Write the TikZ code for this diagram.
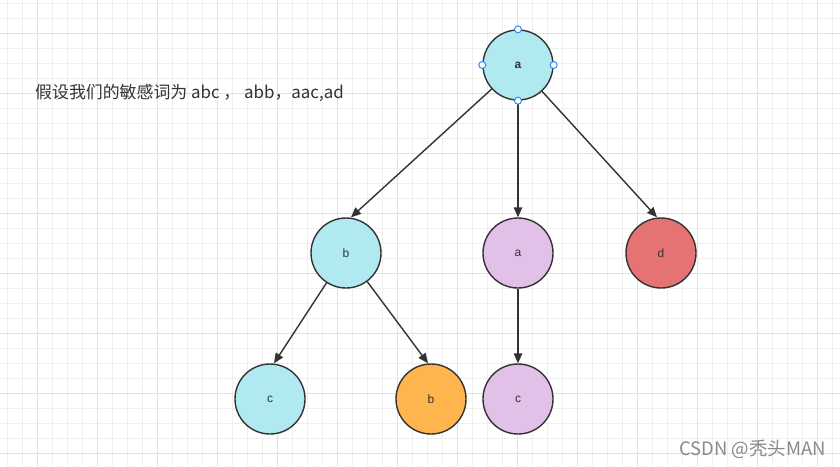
\documentclass[tikz,border=0pt]{standalone}
\usepackage{fontspec}
\setmainfont{Liberation Sans}
\newfontfamily\cjk{Noto Sans CJK SC}
\usetikzlibrary{arrows.meta}
\definecolor{gminor}{HTML}{EFEFEF}
\definecolor{gmajor}{HTML}{E2E2E2}
\definecolor{stroke}{HTML}{333333}
\definecolor{lblue}{HTML}{B1E9F0}
\definecolor{lpurple}{HTML}{E1C1E8}
\definecolor{lred}{HTML}{E57373}
\definecolor{lorange}{HTML}{FFB54D}
\definecolor{handle}{HTML}{2A8CFF}
\definecolor{wm}{HTML}{8A8A8A}
\tikzset{
  tnode/.style={circle, draw=stroke, line width=1.4pt, minimum size=70pt, inner sep=0pt, font=\fontsize{12}{14}\selectfont, text=stroke},
  edge/.style={draw=stroke, line width=1.4pt, -{Triangle[length=10pt,width=8.5pt]}},
  hdl/.style={circle, draw=handle, fill=white, line width=1pt, minimum size=7pt, inner sep=0pt}
}
\begin{document}
\begin{tikzpicture}[x=1pt,y=-1pt]
\useasboundingbox (0,0) rectangle (840,466);
\fill[white] (0,0) rectangle (840,466);
% grid
\foreach \x in {7,22,...,840} \draw[gminor, line width=0.8pt] (\x,0) -- (\x,466);
\foreach \y in {3,18,...,466} \draw[gminor, line width=0.8pt] (0,\y) -- (840,\y);
\foreach \x in {37,97,...,840} \draw[gmajor, line width=0.8pt] (\x,0) -- (\x,466);
\foreach \y in {33,93,...,466} \draw[gmajor, line width=0.8pt] (0,\y) -- (840,\y);

\node[tnode, fill=lblue, font=\fontsize{12}{14}\selectfont\bfseries] (r) at (518,65) {a};
\node[tnode, fill=lblue] (b1) at (346,253) {b};
\node[tnode, fill=lpurple] (a2) at (518,253) {a};
\node[tnode, fill=lred] (d) at (661,253) {d};
\node[tnode, fill=lblue] (c1) at (270,399) {c};
\node[tnode, fill=lorange] (b2) at (431,399) {b};
\node[tnode, fill=lpurple] (c2) at (518,399) {c};

\draw[edge] (r) -- ([xshift=5pt]b1.north);
\draw[edge] (r) -- (a2);
\draw[edge] (r) -- ([xshift=-4pt]d.north);
\draw[edge] (b1) -- ([xshift=4pt]c1.north);
\draw[edge] (b1) -- ([xshift=-3pt]b2.north);
\draw[edge] (a2) -- (c2);

\node[hdl] (h1) at (r.north) {};
\node[hdl] (h2) at (r.west) {};
\node[hdl] (h3) at (r.east) {};
\node[hdl] (h4) at (r.south) {};

\node[anchor=west, text=stroke, font=\cjk\fontsize{16.9}{20}\selectfont, inner sep=0pt] (t) at (35,93) {假设我们的敏感词为 abc ， abb，aac,ad};
\node[anchor=east, text=wm, font=\cjk\fontsize{18.5}{22}\selectfont, inner sep=0pt] (w) at (826,449) {CSDN @秃头MAN};
\end{tikzpicture}
\end{document}
